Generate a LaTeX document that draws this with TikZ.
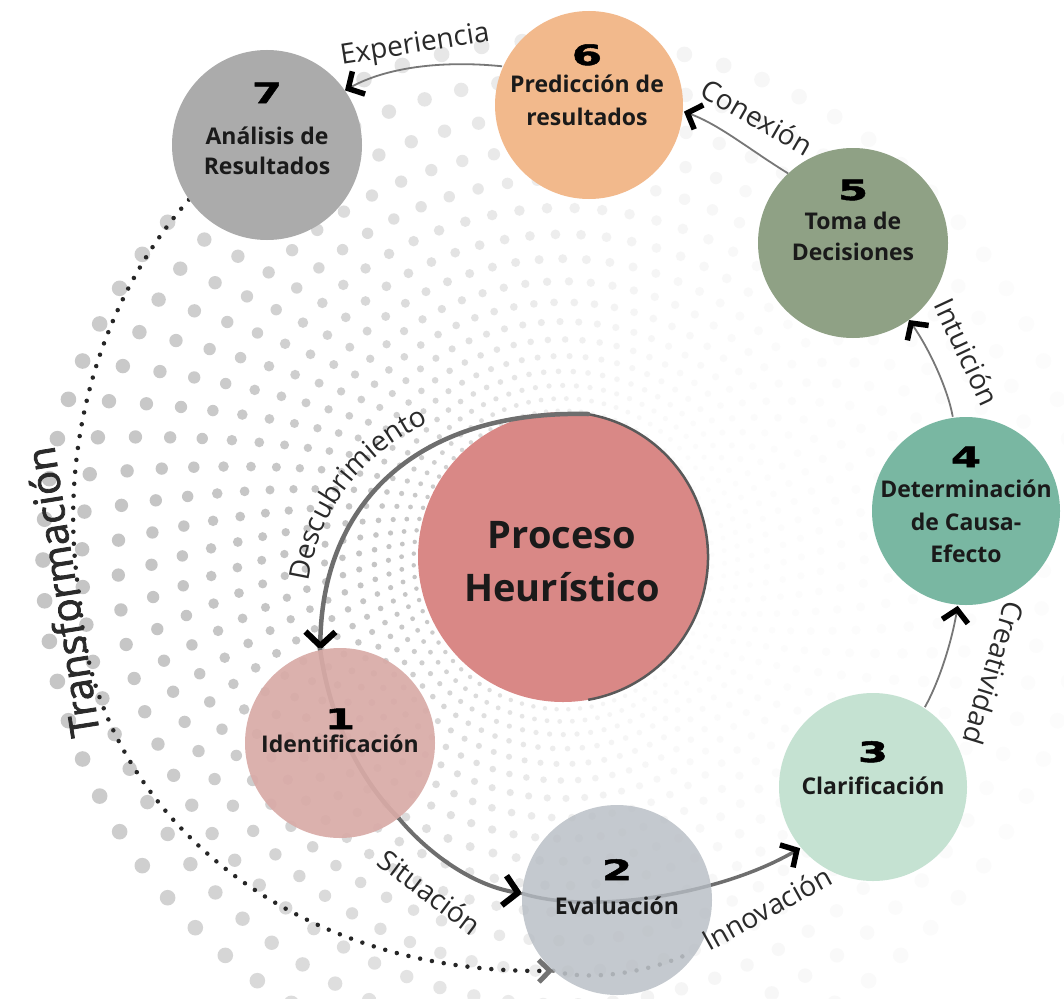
\documentclass[tikz,border=0pt]{standalone}
\usepackage{fontspec}
\setmainfont{Open Sans}
\newfontfamily\numfont[FakeStretch=1.55,FakeBold=1.8]{DejaVu Sans}
\newfontfamily\semifont[FakeBold=2]{Open Sans}
\usetikzlibrary{arrows.meta,decorations.text}

\definecolor{cOne}{HTML}{D9ABA7}
\definecolor{cTwo}{HTML}{B6BCC3}
\definecolor{cThree}{HTML}{C5E2D2}
\definecolor{cFour}{HTML}{79B7A2}
\definecolor{cFive}{HTML}{8FA185}
\definecolor{cSix}{HTML}{F2B98C}
\definecolor{cSeven}{HTML}{ABABAB}
\definecolor{cCore}{HTML}{D98886}
\definecolor{lineG}{HTML}{6E6E6E}
\definecolor{thinG}{HTML}{777777}
\definecolor{dotG}{HTML}{BEBEBE}
\definecolor{txt}{HTML}{1A1A1A}
\definecolor{edgeT}{HTML}{2A2A2A}

\newcommand\edgefont{\fontsize{28}{28}\selectfont}

\begin{document}
\begin{tikzpicture}[x=1pt,y=-1pt,
  stage/.style={circle, inner sep=0pt, minimum size=190pt},
  num/.style={font=\numfont\bfseries\fontsize{28}{28}\selectfont, text=black, anchor=base, inner sep=0pt},
  lbl/.style={font=\bfseries\fontsize{23}{23}\selectfont, text=txt, anchor=base, inner sep=0pt},
  core/.style={font=\bfseries\fontsize{38}{38}\selectfont, text=txt, anchor=base, inner sep=0pt},
  elbl/.style={font=\edgefont, text=edgeT, inner sep=0pt},
  barb/.style={-{Straight Barb[color=black, length=14pt, width=30pt, line width=6pt]}},
  thinbarb/.style={-{Straight Barb[color=black, length=12pt, width=26pt, line width=5.5pt]}},
  flow/.style={draw=lineG, line width=4.5pt, line cap=round},
  link/.style={draw=thinG, line width=1.8pt},
  transf/.style={draw=black!85, line width=4.5pt, line cap=round, dash pattern=on 0pt off 12pt}
]
\useasboundingbox (0,0) rectangle (1064,998);
\fill[white] (0,0) rectangle (1064,998);

% halftone spiral of dots around the centre, strongest on the left
\begin{scope}
\clip (0,0) rectangle (1064,998);
\foreach \k in {0,...,79}{
  \foreach \j in {0,...,18}{
    \pgfmathsetmacro\rr{520*0.925^\j}
    \pgfmathsetmacro\aa{\k*4.5+16.4*ln(520/\rr)}
    \pgfmathsetmacro\ss{0.015*\rr}
    \pgfmathsetmacro\op{0.04+0.85*((1-cos(\aa))/2)^2}
    \fill[dotG, opacity=\op, shift={(563,560)}] (\aa:\rr) circle[radius=\ss pt];
  }
}
\end{scope}

% centre
\node[circle, inner sep=0pt, minimum size=290pt, fill=cCore] (nc) at (563,557) {};
\draw[draw=black!65, line width=2.5pt] ([shift={(-80:145)}]nc.center) arc[start angle=-80, end angle=80, radius=145];

% stage positions
\coordinate (p1) at (340,743);
\coordinate (p2) at (617,900);
\coordinate (p3) at (873,787);
\coordinate (p4) at (966,511);
\coordinate (p5) at (853,243);
\coordinate (p6) at (589,105);
\coordinate (p7) at (267,145);

% anchors for the connectors
\node[stage] (n1) at (p1) {};
\node[stage] (n2) at (p2) {};
\node[stage] (n3) at (p3) {};
\node[stage] (n4) at (p4) {};
\node[stage] (n5) at (p5) {};
\node[stage] (n6) at (p6) {};
\node[stage] (n7) at (p7) {};
\coordinate (t2) at (690,953);

% dotted return path
\draw[transf, draw=black!50] (n2.-132) .. controls (590,982) and (650,972) .. (t2);
\draw[transf, -{Straight Barb[color=black!55, length=11pt, width=22pt, line width=5pt]}]
      (n7.-145) .. controls (100,300) and (55,450) .. (80,600)
      .. controls (90,800) and (280,975) .. (n2.-132);

% main flow
\draw[flow, barb] (nc.80) .. controls (420,410) and (322,500) .. (n1.102);
\draw[flow] (n1.102) .. controls (330,720) and (360,780) .. (n1.-52);
\draw[flow, line width=4pt, barb] (n1.-52) .. controls (425,850) and (470,885) .. (n2.176);
\draw[flow, line width=3.5pt, thinbarb] (n2.176) .. controls (590,915) and (720,895) .. (n3.-140);
\draw[link, thinbarb] (n3.57) .. controls (940,680) and (952,640) .. (n4.-95);
\draw[link, thinbarb] (n4.98) .. controls (948,390) and (930,350) .. (n5.-54);
\draw[link, thinbarb] (n5.133) .. controls (750,150) and (720,125) .. (n6.-4);
\draw[link, thinbarb] (n6.156) .. controls (440,60) and (385,68) .. (n7.35);

% stage discs
\fill[cOne, fill opacity=0.92] (p1) circle[radius=95pt];
\fill[cTwo, fill opacity=0.8] (p2) circle[radius=95pt];
\fill[cThree] (p3) circle[radius=94pt];
\fill[cFour] (p4) circle[radius=94pt];
\fill[cFive] (p5) circle[radius=95pt];
\fill[cSix] (p6) circle[radius=94pt];
\fill[cSeven] (p7) circle[radius=95pt];

% stage texts
\node[num] (d1) at (340,729) {1};
\node[lbl] (l1) at (340,752) {Identificación};
\node[num] (d2) at (617,880) {2};
\node[lbl] (l2) at (617,914) {Evaluación};
\node[num] (d3) at (873,762) {3};
\node[lbl] (l3) at (873,794) {Clarificación};
\node[num] (d4) at (966,467) {4};
\node[lbl] (l4a) at (966,497) {Determinación};
\node[lbl] (l4b) at (966,530) {de Causa-};
\node[lbl] (l4c) at (966,562) {Efecto};
\node[num] (d5) at (853,200) {5};
\node[lbl] (l5a) at (853,229) {Toma de};
\node[lbl] (l5b) at (853,260) {Decisiones};
\node[num] (d6) at (587,65) {6};
\node[lbl] (l6a) at (587,92) {Predicción de};
\node[lbl] (l6b) at (587,125) {resultados};
\node[num] (d7) at (267,103) {7};
\node[lbl] (l7a) at (267,144) {Análisis de};
\node[lbl] (l7b) at (267,174) {Resultados};
\node[core] (c1) at (562,548) {Proceso};
\node[core] (c2) at (562,601) {Heurístico};

% connector labels
\path[decorate, decoration={text along path, text={|\edgefont\color{edgeT}|Descubrimiento}, text align=center}]
  (306,610) .. controls (308,520) and (360,445) .. (455,412);
\node[elbl, rotate=-37] (e12) at (430,892) {Situación};
\node[elbl, rotate=29] (e23) at (767,908) {Innovación};
\node[elbl, rotate=-107] (e34) at (994,673) {Creatividad};
\node[elbl, rotate=-65] (e45) at (967,352) {Intuición};
\node[elbl, rotate=-30] (e56) at (757,117) {Conexión};
\node[elbl, rotate=9] (e67) at (415,46) {Experiencia};
\node[elbl, rotate=99, font=\semifont\fontsize{40}{40}\selectfont] (e72) at (62,592) {Transformación};
\end{tikzpicture}
\end{document}
